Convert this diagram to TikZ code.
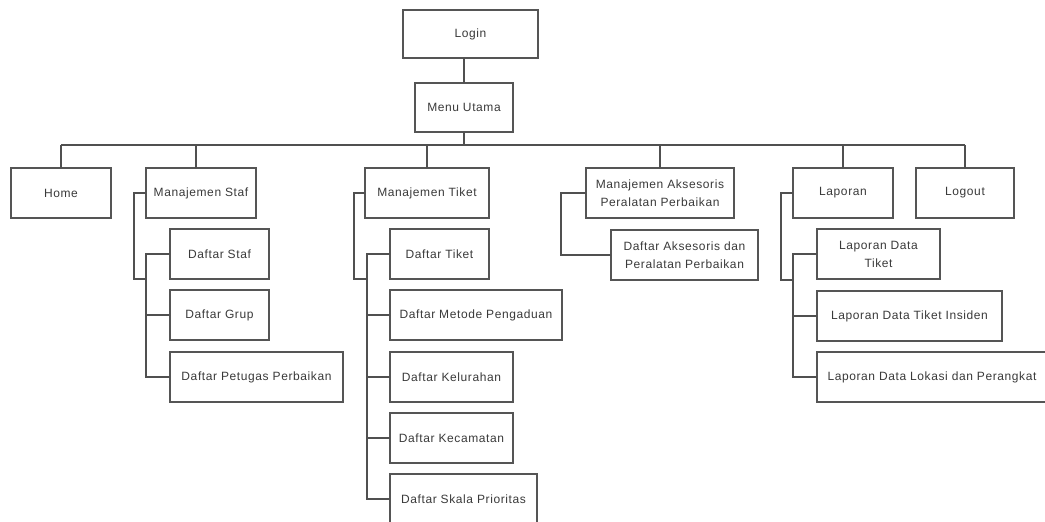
\documentclass[tikz,border=0pt]{standalone}
\usepackage{fontspec}
\newfontfamily\boxfont{Liberation Sans}[LetterSpace=5]
\definecolor{edgegray}{HTML}{555555}
\definecolor{linkgray}{HTML}{505050}
\definecolor{labelgray}{HTML}{3A3A3A}
\tikzset{
  menubox/.style={draw=edgegray, line width=1.5pt, fill=white, inner sep=0pt, outer sep=0pt,
    text=labelgray, font=\boxfont\fontsize{12}{18}\selectfont, align=center},
  link/.style={draw=linkgray, line width=1.5pt}
}
\begin{document}
\begin{tikzpicture}[x=1pt, y=-1pt]
\useasboundingbox (0,0) rectangle (1045,522);
\clip (0,0) rectangle (1045,522);
\fill[white] (0,0) rectangle (1045,522);

% top of the menu tree
\node[menubox, minimum width=135, minimum height=48] (login) at (470.5,34) {Login};
\node[menubox, minimum width=98, minimum height=49] (menu) at (464,107.5) {Menu Utama};

% first level
\node[menubox, minimum width=100, minimum height=50] (home) at (61,193) {Home};
\node[menubox, minimum width=110, minimum height=50] (mstaf) at (201,193) {Manajemen Staf};
\node[menubox, minimum width=124, minimum height=50] (mtiket) at (427,193) {Manajemen Tiket};
\node[menubox, minimum width=148, minimum height=50] (maks) at (660,193) {Manajemen Aksesoris\\Peralatan Perbaikan};
\node[menubox, minimum width=100, minimum height=50] (lap) at (843,193) {Laporan};
\node[menubox, minimum width=98, minimum height=50] (logout) at (965,193) {Logout};

% staff submenu
\node[menubox, minimum width=99, minimum height=50] (dstaf) at (219.5,254) {Daftar Staf};
\node[menubox, minimum width=99, minimum height=50] (dgrup) at (219.5,315) {Daftar Grup};
\node[menubox, minimum width=173, minimum height=50] (dpetugas) at (256.5,377) {Daftar Petugas Perbaikan};

% ticket submenu
\node[menubox, minimum width=99, minimum height=50] (dtiket) at (439.5,254) {Daftar Tiket};
\node[menubox, minimum width=172, minimum height=50] (dmetode) at (476,315) {Daftar Metode Pengaduan};
\node[menubox, minimum width=123, minimum height=50] (dkel) at (451.5,377) {Daftar Kelurahan};
\node[menubox, minimum width=123, minimum height=50] (dkec) at (451.5,438) {Daftar Kecamatan};
\node[menubox, minimum width=147, minimum height=50] (dskala) at (463.5,499) {Daftar Skala Prioritas};

% accessories submenu
\node[menubox, minimum width=147, minimum height=50] (daks) at (684.5,255) {Daftar Aksesoris dan\\Peralatan Perbaikan};

% report submenu
\node[menubox, minimum width=123, minimum height=50] (ldt) at (878.5,254) {Laporan Data\\Tiket};
\node[menubox, minimum width=185, minimum height=50] (ldti) at (909.5,316) {Laporan Data Tiket Insiden};
\node[menubox, minimum width=230, minimum height=50] (lokasi) at (932,377) {Laporan Data Lokasi dan Perangkat};

% main bus
\coordinate (bus) at (0,145);
\coordinate (stafdrop) at (196,168);
\draw[link] (menu.north) -- (menu.north |- login.south);
\draw[link] (home.north |- bus) -- (logout.north |- bus);
\draw[link] (menu.south) -- (menu.south |- bus);
\draw[link] (home.north) -- (home.north |- bus);
\draw[link] (stafdrop) -- (stafdrop |- bus);
\draw[link] (mtiket.north) -- (mtiket.north |- bus);
\draw[link] (maks.north) -- (maks.north |- bus);
\draw[link] (lap.north) -- (lap.north |- bus);
\draw[link] (logout.north) -- (logout.north |- bus);

% staff branch
\coordinate (sbus) at (146,279);
\draw[link] (mstaf.west) -- ++(-12,0) |- (sbus);
\draw[link] (dstaf.west) -- (dstaf.west -| sbus) -- (dpetugas.west -| sbus) -- (dpetugas.west);
\draw[link] (dgrup.west) -- (dgrup.west -| sbus);

% ticket branch
\coordinate (tbus) at (367,279);
\draw[link] (mtiket.west) -- ++(-11,0) |- (tbus);
\draw[link] (dtiket.west) -- (dtiket.west -| tbus) -- (dskala.west -| tbus) -- (dskala.west);
\draw[link] (dmetode.west) -- (dmetode.west -| tbus);
\draw[link] (dkel.west) -- (dkel.west -| tbus);
\draw[link] (dkec.west) -- (dkec.west -| tbus);

% accessories branch
\draw[link] (maks.west) -- ++(-25,0) |- (daks.west);

% report branch
\coordinate (lbus) at (793,280);
\draw[link] (lap.west) -- ++(-12,0) |- (lbus);
\draw[link] (ldt.west) -- (ldt.west -| lbus) -- (lokasi.west -| lbus) -- (lokasi.west);
\draw[link] (ldti.west) -- (ldti.west -| lbus);
\end{tikzpicture}
\end{document}
